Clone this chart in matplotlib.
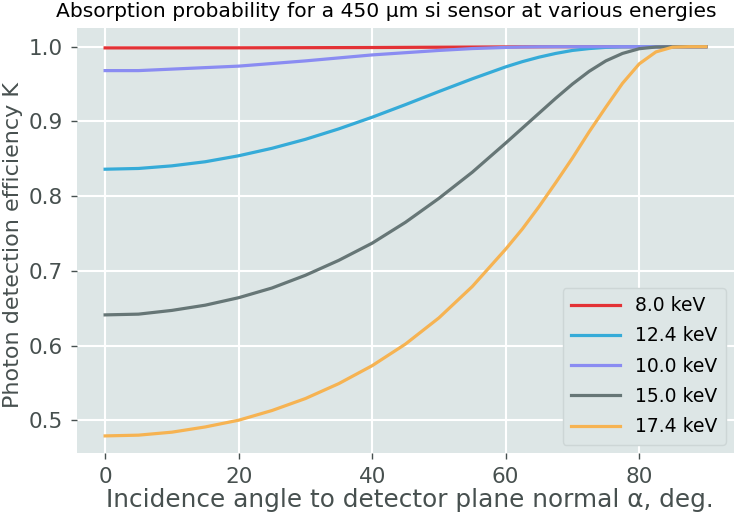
import matplotlib
matplotlib.use("Agg")
import matplotlib.pyplot as plt

# angles in degrees
angles = [0, 5, 10, 15, 20, 25, 30, 35, 40, 45, 50, 55, 60,
          62.5, 65, 67.5, 70, 72.5, 75, 77.5, 80, 82.5, 85, 87.5, 90]

k_8_0 = [0.9984, 0.9984, 0.9984, 0.9985, 0.9985, 0.9986, 0.9987, 0.9988, 0.9989, 0.9991, 0.9993, 0.9995, 0.9997,
         0.9998, 0.9999, 1.0, 1.0, 1.0, 1.0, 1.0, 1.0, 1.0, 1.0, 1.0, 1.0]
k_12_4 = [0.836, 0.837, 0.8405, 0.846, 0.854, 0.864, 0.876, 0.890, 0.9056, 0.9225, 0.940, 0.957, 0.973,
          0.980, 0.986, 0.991, 0.995, 0.9975, 0.9991, 0.9998, 1.0, 1.0, 1.0, 1.0, 1.0]
k_10_0 = [0.968, 0.968, 0.970, 0.972, 0.974, 0.9775, 0.981, 0.985, 0.989, 0.992, 0.995, 0.9975, 0.999,
          0.9996, 0.9999, 1.0, 1.0, 1.0, 1.0, 1.0, 1.0, 1.0, 1.0, 1.0, 1.0]
k_15_0 = [0.641, 0.642, 0.647, 0.654, 0.664, 0.677, 0.694, 0.714, 0.737, 0.765, 0.797, 0.832, 0.871,
          0.891, 0.911, 0.931, 0.950, 0.967, 0.981, 0.991, 0.9973, 0.9996, 1.0, 1.0, 1.0]
k_17_4 = [0.479, 0.480, 0.484, 0.491, 0.500, 0.513, 0.529, 0.549, 0.573, 0.602, 0.637, 0.679, 0.729,
          0.756, 0.786, 0.818, 0.851, 0.886, 0.919, 0.951, 0.977, 0.993, 0.9994, 1.0, 1.0]

labels = ["8.0 keV", "12.4 keV", "10.0 keV", "15.0 keV", "17.4 keV"]
series = [k_8_0, k_12_4, k_10_0, k_15_0, k_17_4]
colors = ["#e33236", "#35abd8", "#8a8cf2", "#667676", "#f6b352"]

text_col = "#47504f"
plt.rcParams["font.family"] = ["DejaVu Sans"]

fig = plt.figure(figsize=(7.34, 5.19), dpi=100)
ax = fig.add_axes([0.105, 0.127, 0.895, 0.819])
ax.set_facecolor("#dde6e6")
for s in ax.spines.values():
    s.set_visible(False)
ax.grid(True, color="white", linewidth=1.5)
ax.set_axisbelow(True)

for y, lab, c in zip(series, labels, colors):
    ax.plot(angles, y, color=c, linewidth=2.3, label=lab)

ax.set_xlim(-4.2, 94.2)
ax.set_ylim(0.456, 1.025)
ax.set_xticks([0, 20, 40, 60, 80])
ax.set_yticks([0.5, 0.6, 0.7, 0.8, 0.9, 1.0])
ax.tick_params(colors=text_col, labelsize=15.5, length=4, width=1, pad=6)

ax.set_xlabel("Incidence angle to detector plane normal α, deg.", fontsize=17.8, color=text_col)
ax.xaxis.set_label_coords(0.507, -0.082)
ax.set_ylabel("Photon detection efficiency K", fontsize=16, color=text_col)
ax.yaxis.set_label_coords(-0.082, 0.49)
ax.set_title("Absorption probability for a 450 μm si sensor at various energies",
             fontsize=14.6, color="black", pad=8, x=0.47,
             family=["Liberation Sans Narrow", "DejaVu Sans"])

leg = ax.legend(loc="lower right", fontsize=13.5, handlelength=2.6,
                borderaxespad=0.45, frameon=True, facecolor="#dde6e6", edgecolor="#cdd6d6",
                framealpha=1.0, borderpad=0.45, labelspacing=0.6)

fig.savefig("out.png", dpi=100)
